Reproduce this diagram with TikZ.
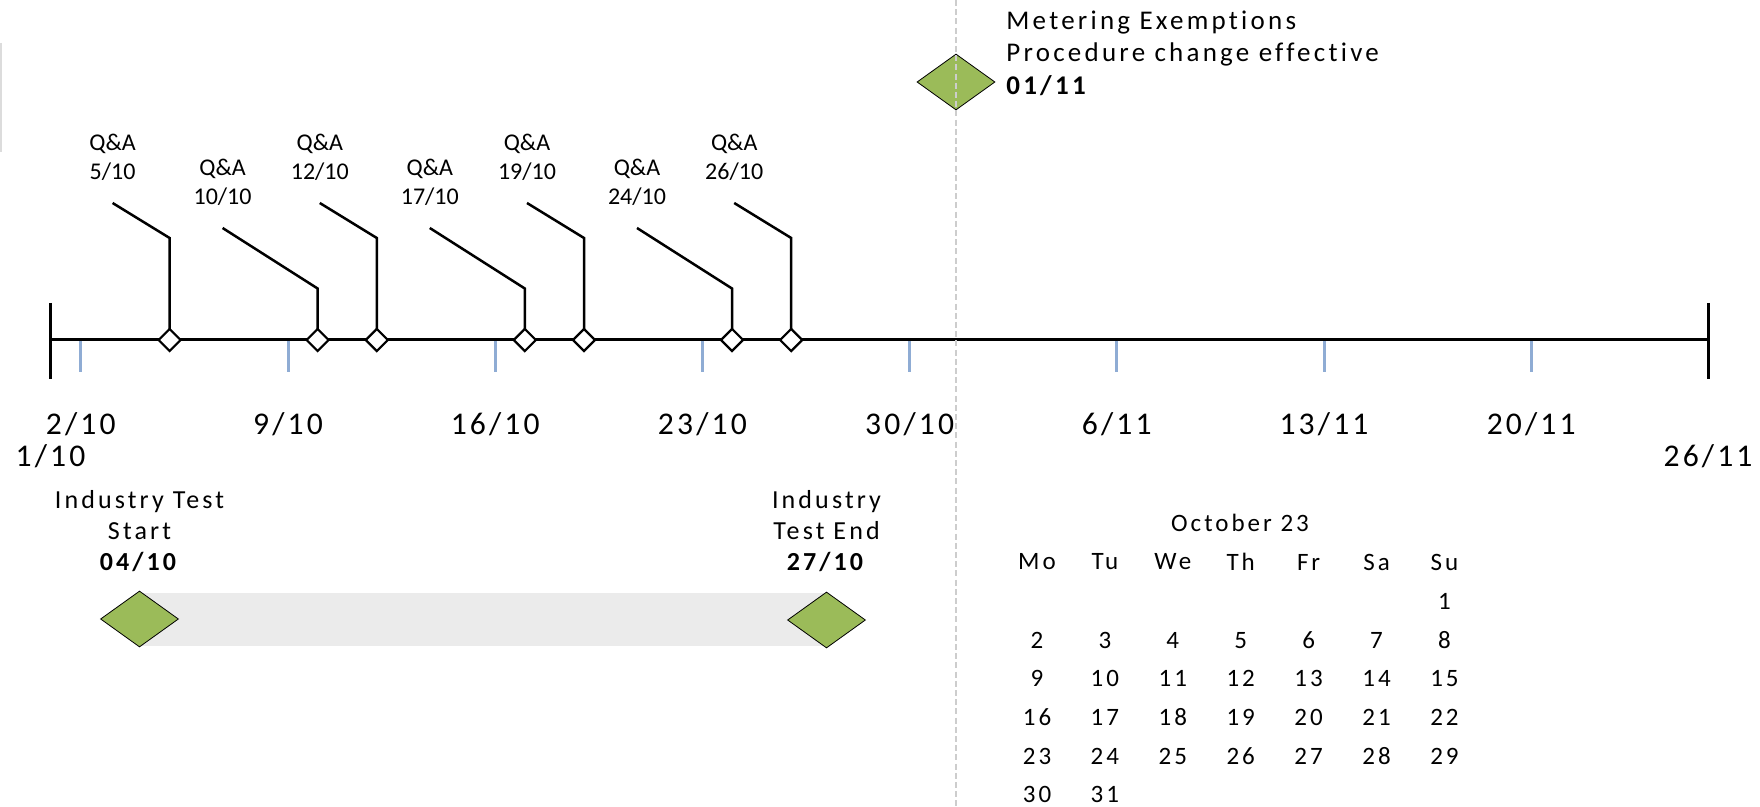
\documentclass[tikz,border=0pt]{standalone}
\usepackage{fontspec}
\setmainfont{Carlito}[Ligatures=NoCommon]
\newfontfamily\spaced{Carlito}[LetterSpace=10,Ligatures=NoCommon]
\newfontfamily\wide{Carlito}[LetterSpace=12,Ligatures=NoCommon]
\usetikzlibrary{shapes.geometric}
\definecolor{tickblue}{RGB}{143,172,212}
\definecolor{msgreen}{RGB}{155,187,89}
\definecolor{bargray}{RGB}{235,235,235}
\definecolor{dashgray}{RGB}{205,205,205}
\definecolor{edgegray}{RGB}{220,220,220}
\begin{document}
\begin{tikzpicture}[x=0.5pt,y=-0.5pt,
  axisline/.style={line width=1.5pt, black},
  endbar/.style={line width=1.5pt, black},
  weektick/.style={line width=1.5pt, tickblue},
  leader/.style={line width=1.25pt, black},
  qamark/.style={diamond, draw=black, fill=white, line width=1.1pt, inner sep=0pt, minimum width=11.5pt, minimum height=11.5pt},
  milestone/.style={diamond, draw=black, fill=msgreen, line width=0.4pt, inner sep=0pt, minimum width=39pt, minimum height=28pt},
  qalabel/.style={font=\fontsize{12}{14.6}\selectfont, align=center, inner sep=0pt},
  datelabel/.style={font=\spaced\fontsize{15.8}{19}\selectfont, inner sep=0pt},
  milelabel/.style={font=\wide\fontsize{13}{15.6}\selectfont, align=center, inner sep=0pt},
  meterlabel/.style={font=\wide\fontsize{13.5}{16.3}\selectfont, align=left, inner sep=0pt},
  callabel/.style={font=\wide\fontsize{12.5}{15}\selectfont, inner sep=0pt},
  testbar/.style={fill=bargray, draw=none, inner sep=0pt, minimum width=343.5pt, minimum height=26.25pt},
  divider/.style={dashgray, line width=1.4pt, dash pattern=on 3pt off 1.6pt}
]
\useasboundingbox (0,0) rectangle (1760,807);

% faint edge at top left
\coordinate (edgeA) at (1,43);
\coordinate (edgeB) at (1,152);
\draw[edgegray, line width=1pt] (edgeA) -- (edgeB);

% industry test bar
\node[testbar] (bar) at (483.5,619.25) {};

% axis
\coordinate (axL) at (50.5,340);
\coordinate (axR) at (1708,340);
\coordinate (barLt) at (50.5,303);
\coordinate (barLb) at (50.5,379);
\coordinate (barRt) at (1708,303);
\coordinate (barRb) at (1708,379);
\draw[axisline] (axL) -- (axR);
\draw[endbar] (barLt) -- (barLb);
\draw[endbar] (barRt) -- (barRb);

% week ticks
\foreach \i in {0,...,7}{
  \coordinate (tk\i) at ({80.8+207.2*\i},341);
  \coordinate (tkb\i) at ({80.8+207.2*\i},372);
  \draw[weektick] (tk\i) -- (tkb\i);
}

% axis dates
\node[datelabel] (d0110) at (50.5,456) {1/10};
\node[datelabel] (d0210) at (80.8,424) {2/10};
\node[datelabel] (d0910) at (288,424) {9/10};
\node[datelabel] (d1610) at (495.2,424) {16/10};
\node[datelabel] (d2310) at (702.4,424) {23/10};
\node[datelabel] (d3010) at (909.6,424) {30/10};
\node[datelabel] (d0611) at (1116.8,424) {6/11};
\node[datelabel] (d1311) at (1324,424) {13/11};
\node[datelabel] (d2011) at (1531.2,424) {20/11};
\node[datelabel] (d2611) at (1708,456) {26/11};

% Q&A markers: tall ones
\foreach \n/\x/\t in {q05/169.6/5, q12/376.8/12, q19/584/19, q26/791.2/26}{
  \coordinate (\n bend) at (\x,238);
  \coordinate (\n end) at ({\x-57},203);
  \node[qalabel] (\n lab) at ({\x-57},157) {Q\&A\\\t/10};
  \coordinate (\n base) at (\x,340);
  \draw[leader] (\n base) -- (\n bend) -- (\n end);
  \node[qamark] (\n) at (\n base) {};
}
% Q&A markers: short ones
\foreach \n/\x/\t in {q10/317.6/10, q17/524.8/17, q24/732/24}{
  \coordinate (\n bend) at (\x,288.5);
  \coordinate (\n end) at ({\x-95},228);
  \node[qalabel] (\n lab) at ({\x-95},182) {Q\&A\\\t/10};
  \coordinate (\n base) at (\x,340);
  \draw[leader] (\n base) -- (\n bend) -- (\n end);
  \node[qamark] (\n) at (\n base) {};
}

% industry test milestones
\node[milestone] (itstart) at (139.5,619) {};
\node[milestone] (itend) at (826.5,620) {};
\node[milelabel] (itstartlab) at (139.5,531) {Industry Test\\Start\\\textbf{04/10}};
\node[milelabel] (itendlab) at (826.5,531) {Industry\\Test End\\\textbf{27/10}};

% metering milestone
\node[milestone] (meter) at (956,82) {};
\node[meterlabel, anchor=west] (meterlab) at (1006,53) {Metering Exemptions\\Procedure change effective\\\textbf{01/11}};

% divider
\coordinate (divT) at (956,0);
\coordinate (divB) at (956,807);
\draw[divider] (divT) -- (divB);

% calendar
\node[callabel] (caltitle) at (1240,523) {October 23};
\foreach \d [count=\k from 0] in {Mo,Tu,We,Th,Fr,Sa,Su}{
  \node[callabel] (h\d) at ({1037+67.9*\k},562) {\d};
}
\foreach \day in {1,...,31}{
  \pgfmathtruncatemacro{\col}{mod(\day+5,7)}
  \pgfmathtruncatemacro{\row}{(\day+5)/7}
  \node[callabel] (cal\day) at ({1037+67.9*\col},{601.6+38.6*\row}) {\day};
}
\end{tikzpicture}
\end{document}
